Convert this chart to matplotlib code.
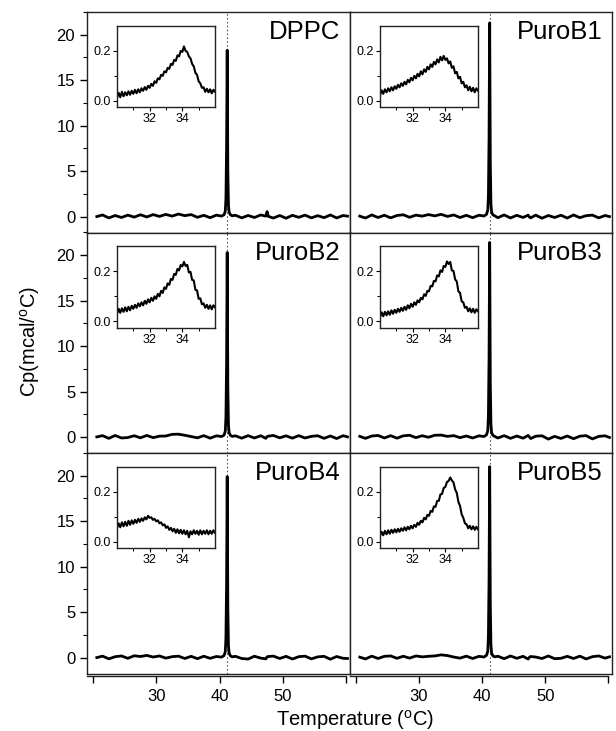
import matplotlib
matplotlib.use('Agg')
import matplotlib.pyplot as plt
from matplotlib.ticker import MultipleLocator, FixedLocator

plt.rcParams['font.family'] = ['Liberation Sans', 'DejaVu Sans']
plt.rcParams['mathtext.fontset'] = 'custom'
plt.rcParams['mathtext.rm'] = 'Liberation Sans'
plt.rcParams['mathtext.it'] = 'Liberation Sans:italic'

# sample names, in panel order (row by row)
names = ['DPPC', 'PuroB1', 'PuroB2', 'PuroB3', 'PuroB4', 'PuroB5']

# main scan: temperature (C)
t_main = [20.6, 21.5, 22.5, 23.5, 24.5, 25.5, 26.5, 27.5, 28.5, 29.5,
          30.5, 31.5, 32.5, 33.5, 34.5, 35.5, 36.5, 37.5, 38.5, 39.5,
          40.3, 40.7, 40.9, 41.0, 41.1, 41.2, 41.3, 41.4, 41.5, 41.7, 42.0,
          42.5, 43.5, 44.5, 45.5, 46.5, 47.3, 47.5, 47.7, 48.5, 49.5, 50.5, 51.5,
          52.5, 53.5, 54.5, 55.5, 56.5, 57.5, 58.5, 59.5, 60.2]

# Cp (mcal/oC) for each sample
cp_dppc = [0.00, 0.18, -0.15, 0.12, -0.10, 0.16, -0.06, 0.20, -0.04, 0.22,
           0.02, 0.24, 0.05, 0.28, 0.10, 0.22, -0.08, 0.14, -0.12, 0.16,
           0.05, 0.20, 0.60, 2.0, 7.5, 18.3, 5.0, 1.2, 0.5, 0.2, 0.08,
           0.15, -0.14, 0.12, -0.10, 0.18, 0.05, 0.55, 0.02, -0.16, 0.12, -0.18, 0.14,
           -0.08, 0.16, -0.14, 0.10, -0.12, 0.18, -0.15, 0.12, 0.05]
cp_b1 = [0.05, -0.16, 0.18, -0.10, 0.15, -0.14, 0.12, 0.20, -0.08, 0.16,
         0.05, 0.22, 0.08, 0.25, 0.02, 0.18, -0.10, 0.14, -0.12, 0.15,
         0.06, 0.25, 0.70, 2.3, 8.5, 21.3, 6.0, 1.4, 0.5, 0.2, 0.08,
         -0.12, 0.18, -0.15, 0.14, -0.10, 0.16, -0.05, -0.14, 0.16, -0.18, 0.12, -0.10,
         0.15, -0.16, 0.18, -0.12, 0.10, 0.16, -0.14, 0.12, 0.00]
cp_b2 = [0.02, 0.16, -0.14, 0.18, -0.10, -0.05, 0.15, -0.08, 0.18, -0.06,
         0.10, 0.12, 0.30, 0.32, 0.20, 0.06, -0.08, 0.16, -0.12, 0.14,
         0.06, 0.22, 0.65, 2.2, 8.0, 20.3, 5.5, 1.3, 0.5, 0.2, 0.08,
         0.14, -0.12, 0.16, -0.10, 0.15, -0.14, 0.06, 0.10, 0.18, -0.08, 0.14, -0.12,
         0.16, -0.10, 0.08, 0.15, -0.14, 0.12, -0.16, 0.15, 0.02]
cp_b3 = [0.08, -0.14, 0.12, 0.18, -0.10, 0.16, -0.12, 0.14, 0.20, -0.06,
         0.15, -0.02, 0.20, 0.22, 0.08, 0.16, -0.06, 0.12, -0.10, 0.14,
         0.06, 0.25, 0.70, 2.4, 8.6, 21.4, 6.0, 1.4, 0.5, 0.2, 0.07,
         -0.10, 0.16, -0.14, 0.12, -0.12, 0.18, 0.02, -0.16, 0.10, 0.14, -0.22, 0.08,
         -0.15, 0.12, -0.18, 0.10, 0.16, -0.20, 0.08, 0.14, -0.04]
cp_b4 = [0.00, 0.16, -0.14, 0.10, 0.18, -0.08, 0.20, 0.12, 0.24, 0.06,
         0.18, -0.06, 0.10, 0.16, -0.10, 0.14, -0.12, 0.15, -0.08, 0.12,
         0.05, 0.22, 0.65, 2.2, 8.0, 19.9, 5.4, 1.3, 0.5, 0.2, 0.08,
         0.14, -0.10, -0.16, 0.15, -0.06, -0.14, 0.08, 0.12, 0.16, -0.10, 0.14, -0.16,
         0.10, 0.16, -0.14, 0.08, 0.14, -0.18, 0.12, -0.08, -0.10]
cp_b5 = [0.05, -0.15, 0.16, -0.10, 0.14, 0.18, -0.08, 0.15, -0.06, 0.18,
         0.08, 0.14, 0.18, 0.30, 0.22, 0.06, -0.06, 0.16, -0.10, 0.14,
         0.06, 0.25, 0.70, 2.4, 8.5, 21.0, 5.8, 1.4, 0.5, 0.2, 0.08,
         0.15, -0.12, 0.18, -0.08, 0.14, -0.16, 0.04, 0.12, 0.06, -0.10, 0.18, -0.12,
         -0.08, 0.14, -0.10, 0.16, -0.15, 0.10, 0.18, -0.06, 0.08]
cp_main = [cp_dppc, cp_b1, cp_b2, cp_b3, cp_b4, cp_b5]

# inset: pre-transition region
t_ins = [30.0, 30.1, 30.2, 30.3, 30.4, 30.5, 30.6, 30.7, 30.8, 30.9,
         31.0, 31.1, 31.2, 31.3, 31.4, 31.5, 31.6, 31.7, 31.8, 31.9,
         32.0, 32.1, 32.2, 32.3, 32.4, 32.5, 32.6, 32.7, 32.8, 32.9,
         33.0, 33.1, 33.2, 33.3, 33.4, 33.5, 33.6, 33.7, 33.8, 33.9,
         34.0, 34.1, 34.2, 34.3, 34.4, 34.5, 34.6, 34.7, 34.8, 34.9,
         35.0, 35.1, 35.2, 35.3, 35.4, 35.5, 35.6, 35.7, 35.8, 35.9, 36.0]
ins_dppc = [0.012, 0.032, 0.014, 0.036, 0.018, 0.034, 0.022, 0.038, 0.024, 0.040,
            0.028, 0.044, 0.030, 0.046, 0.034, 0.050, 0.040, 0.055, 0.044, 0.060,
            0.052, 0.068, 0.060, 0.078, 0.072, 0.090, 0.086, 0.104, 0.100, 0.118,
            0.114, 0.132, 0.128, 0.148, 0.144, 0.164, 0.160, 0.182, 0.178, 0.200,
            0.196, 0.218, 0.200, 0.196, 0.178, 0.170, 0.148, 0.138, 0.112, 0.104,
            0.078, 0.070, 0.052, 0.054, 0.036, 0.048, 0.034, 0.046, 0.030, 0.044, 0.036]
ins_b1 = [0.022, 0.042, 0.028, 0.046, 0.034, 0.050, 0.038, 0.054, 0.042, 0.058,
          0.048, 0.064, 0.054, 0.070, 0.060, 0.076, 0.066, 0.084, 0.074, 0.092,
          0.082, 0.100, 0.090, 0.108, 0.098, 0.118, 0.106, 0.126, 0.116, 0.136,
          0.126, 0.146, 0.136, 0.156, 0.146, 0.166, 0.154, 0.176, 0.162, 0.180,
          0.164, 0.170, 0.150, 0.158, 0.132, 0.138, 0.110, 0.116, 0.090, 0.096,
          0.070, 0.076, 0.054, 0.062, 0.042, 0.056, 0.038, 0.052, 0.034, 0.050, 0.040]
ins_b2 = [0.030, 0.050, 0.034, 0.052, 0.038, 0.056, 0.040, 0.058, 0.044, 0.062,
          0.050, 0.066, 0.054, 0.072, 0.060, 0.076, 0.064, 0.082, 0.070, 0.088,
          0.076, 0.094, 0.082, 0.100, 0.090, 0.110, 0.100, 0.122, 0.114, 0.136,
          0.130, 0.152, 0.146, 0.170, 0.166, 0.190, 0.186, 0.210, 0.204, 0.226,
          0.220, 0.238, 0.222, 0.226, 0.196, 0.198, 0.166, 0.164, 0.126, 0.124,
          0.090, 0.092, 0.068, 0.072, 0.054, 0.066, 0.050, 0.064, 0.048, 0.064, 0.056]
ins_b3 = [0.016, 0.036, 0.020, 0.038, 0.024, 0.040, 0.026, 0.044, 0.030, 0.046,
          0.034, 0.050, 0.038, 0.054, 0.042, 0.058, 0.046, 0.064, 0.052, 0.070,
          0.058, 0.076, 0.066, 0.084, 0.076, 0.094, 0.088, 0.108, 0.102, 0.122,
          0.120, 0.142, 0.140, 0.162, 0.160, 0.184, 0.180, 0.204, 0.198, 0.222,
          0.218, 0.240, 0.230, 0.238, 0.204, 0.202, 0.168, 0.160, 0.120, 0.114,
          0.080, 0.076, 0.054, 0.058, 0.040, 0.052, 0.036, 0.050, 0.034, 0.048, 0.040]
ins_b4 = [0.056, 0.074, 0.058, 0.078, 0.062, 0.080, 0.064, 0.084, 0.068, 0.086,
          0.072, 0.088, 0.076, 0.092, 0.080, 0.094, 0.084, 0.098, 0.090, 0.104,
          0.096, 0.098, 0.088, 0.092, 0.082, 0.086, 0.074, 0.078, 0.066, 0.070,
          0.056, 0.062, 0.048, 0.056, 0.042, 0.052, 0.036, 0.050, 0.034, 0.048,
          0.032, 0.046, 0.030, 0.044, 0.018, 0.042, 0.030, 0.046, 0.032, 0.044,
          0.028, 0.046, 0.030, 0.044, 0.032, 0.046, 0.030, 0.044, 0.032, 0.046, 0.036]
ins_b5 = [0.024, 0.040, 0.026, 0.044, 0.030, 0.046, 0.032, 0.048, 0.036, 0.050,
          0.038, 0.052, 0.040, 0.054, 0.044, 0.058, 0.046, 0.060, 0.050, 0.064,
          0.054, 0.068, 0.060, 0.076, 0.068, 0.084, 0.078, 0.096, 0.090, 0.108,
          0.104, 0.124, 0.120, 0.142, 0.140, 0.164, 0.164, 0.190, 0.192, 0.216,
          0.220, 0.240, 0.244, 0.258, 0.246, 0.238, 0.210, 0.196, 0.160, 0.144,
          0.110, 0.096, 0.074, 0.070, 0.054, 0.064, 0.050, 0.062, 0.048, 0.060, 0.050]
ins_data = [ins_dppc, ins_b1, ins_b2, ins_b3, ins_b4, ins_b5]

t_m = 41.2  # main transition, dotted guide

W, H = 616.0, 731.0
fig = plt.figure(figsize=(6.16, 7.31), dpi=100)

col_x = [87, 350]
col_w = [263, 262]
row_top = [12, 232.5, 453]
row_h = 220.5

for i in range(6):
    r, c = i // 2, i % 2
    x0, w = col_x[c], col_w[c]
    y0 = row_top[r]
    ax = fig.add_axes([x0 / W, 1 - (y0 + row_h) / H, w / W, row_h / H])
    ax.plot(t_main, cp_main[i], color='black', lw=2.0)
    ax.axvline(t_m, color='#555555', ls=(0, (1.5, 2)), lw=0.8, zorder=0)
    ax.set_xlim(19.05, 60.6)
    ax.set_ylim(-1.75, 22.5)
    for s in ax.spines.values():
        s.set_linewidth(1.0)
        s.set_color('#222222')
    ax.annotate(names[i], xy=(1, 1), xycoords='axes fraction', xytext=(-7, -6),
                textcoords='offset points', ha='right', va='top', fontsize=18.5)

    if c == 0:
        ax.yaxis.set_major_locator(FixedLocator([0, 5, 10, 15, 20]))
        ax.yaxis.set_minor_locator(MultipleLocator(2.5))
        ax.tick_params(axis='y', which='major', direction='out', length=5, width=1,
                       labelsize=12)
        ax.tick_params(axis='y', which='minor', direction='out', length=3, width=0.8)
    else:
        ax.set_yticks([])

    if r == 2:
        ax.set_xticks([20, 30, 40, 50, 60])
        ax.set_xticklabels(['', '30', '40', '50', ''])
        ax.tick_params(axis='x', direction='out', length=5, width=1, labelsize=12,
                       pad=4)
        ax.spines['bottom'].set_position(('outward', 2))
        ax.spines['bottom'].set_bounds(19.05, 60)
        ax.axhline(-1.75, color='#222222', lw=1.0, clip_on=False)
    else:
        ax.set_xticks([])

    # inset
    ix = fig.add_axes([(x0 + 30) / W, 1 - (y0 + 14 + 81) / H, 98 / W, 81 / H])
    ix.plot(t_ins, ins_data[i], color='black', lw=1.5)
    ix.set_xlim(30, 36)
    ix.set_ylim(-0.025, 0.30)
    ix.xaxis.set_major_locator(FixedLocator([32, 34]))
    ix.xaxis.set_minor_locator(FixedLocator([31, 33, 35]))
    ix.yaxis.set_major_locator(FixedLocator([0.0, 0.2]))
    ix.yaxis.set_minor_locator(FixedLocator([0.1]))
    ix.set_yticklabels(['0.0', '0.2'])
    ix.tick_params(which='major', direction='out', length=3, width=0.8,
                   labelsize=9, pad=1.5)
    ix.tick_params(which='minor', direction='out', length=2, width=0.7)
    for s in ix.spines.values():
        s.set_linewidth(1.0)
        s.set_color('#222222')

fig.text(30 / W, 1 - 342 / H, 'Cp(mcal/$^{\\mathrm{o}}$C)', rotation=90,
         ha='center', va='center', fontsize=14.5)
fig.text(355 / W, 5 / H, 'Temperature ($^{\\mathrm{o}}$C)', ha='center',
         va='baseline', fontsize=14.5)

fig.savefig('out.png', dpi=100)
